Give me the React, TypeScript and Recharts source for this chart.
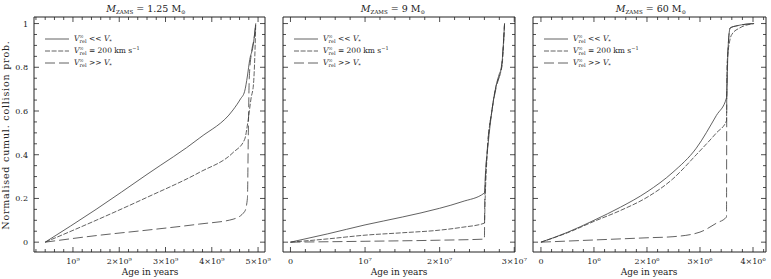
import React from "react";
import { LineChart, Line, XAxis, YAxis } from "recharts";

// ── Data (x in units of the panel's power of ten, y = normalised probability) ──
// Panel 1: M_ZAMS = 1.25 Msun, x in 1e9 yr
const p1SlowX = [0.4, 1.5, 2.6, 3.74, 4.46, 4.62, 4.71, 4.77, 4.82, 4.89, 4.95];
const p1SlowY = [0, 0.15, 0.31, 0.477, 0.605, 0.655, 0.69, 0.76, 0.835, 0.895, 1.0];
const p1MidX = [0.4, 1.5, 2.6, 3.74, 4.46, 4.71, 4.78, 4.85, 4.9, 4.93, 4.95];
const p1MidY = [0, 0.1, 0.205, 0.32, 0.41, 0.47, 0.55, 0.66, 0.72, 0.85, 1.0];
const p1FastX = [0.4, 1.5, 2.6, 3.74, 4.46, 4.71, 4.77, 4.79, 4.81, 4.86, 4.92, 4.95];
const p1FastY = [0, 0.03, 0.055, 0.083, 0.105, 0.14, 0.2, 0.5, 0.75, 0.87, 0.94, 1.0];

// Panel 2: M_ZAMS = 9 Msun, x in 1e7 yr
const p2SlowX = [0, 0.5, 1.0, 1.5, 2.0, 2.3, 2.6, 2.615, 2.65, 2.7, 2.76, 2.8, 2.83, 2.845, 2.87];
const p2SlowY = [0, 0.038, 0.079, 0.115, 0.155, 0.185, 0.225, 0.32, 0.45, 0.6, 0.72, 0.77, 0.8, 0.86, 1.0];
const p2MidX = [0, 0.5, 1.0, 1.5, 2.0, 2.3, 2.6, 2.61, 2.64, 2.7, 2.76, 2.79, 2.82, 2.84, 2.87];
const p2MidY = [0, 0.015, 0.032, 0.043, 0.055, 0.068, 0.087, 0.2, 0.42, 0.6, 0.72, 0.75, 0.78, 0.82, 1.0];
const p2FastX = [0, 1.0, 2.0, 2.6, 2.605, 2.64, 2.7, 2.76, 2.78, 2.81, 2.84, 2.87];
const p2FastY = [0, 0.004, 0.009, 0.014, 0.2, 0.43, 0.6, 0.71, 0.735, 0.77, 0.84, 1.0];

// Panel 3: M_ZAMS = 60 Msun, x in 1e6 yr
const p3SlowX = [0, 0.5, 1.0, 1.5, 2.0, 2.49, 2.93, 3.31, 3.5, 3.53, 3.57, 3.7, 4.02];
const p3SlowY = [0, 0.045, 0.1, 0.16, 0.23, 0.32, 0.43, 0.58, 0.66, 0.89, 0.98, 0.99, 1.0];
const p3MidX = [0, 0.5, 1.0, 1.5, 2.0, 2.49, 2.93, 3.31, 3.5, 3.51, 3.56, 3.6, 3.75, 4.02];
const p3MidY = [0, 0.043, 0.095, 0.145, 0.205, 0.29, 0.4, 0.5, 0.555, 0.81, 0.92, 0.95, 0.98, 1.0];
const p3FastX = [0, 1.0, 2.0, 2.49, 3.0, 3.31, 3.5, 3.505, 3.53, 3.57, 3.7, 4.02];
const p3FastY = [0, 0.01, 0.02, 0.025, 0.046, 0.087, 0.115, 0.66, 0.89, 0.98, 0.99, 1.0];

// Tick values + labels
const p1XTicks = [1, 2, 3, 4, 5];
const p1XLabels = ["10⁹", "2×10⁹", "3×10⁹", "4×10⁹", "5×10⁹"];
const p2XTicks = [0, 1, 2, 3];
const p2XLabels = ["0", "10⁷", "2×10⁷", "3×10⁷"];
const p3XTicks = [0, 1, 2, 3, 4];
const p3XLabels = ["0", "10⁶", "2×10⁶", "3×10⁶", "4×10⁶"];
const yTicks = [0, 0.2, 0.4, 0.6, 0.8, 1];
const yLabels = ["0", "0.2", "0.4", "0.6", "0.8", "1"];

const titles = ["1.25", "9", "60"];

// ── Style tokens ─────────────────────────────────────────────────────────────
const FONT = "'DejaVu Serif', 'Liberation Serif', serif";
const INK = "#222";
const LINE_INK = "#3a3a3a";
const Y_DOMAIN: [number, number] = [-0.045, 1.03];
const DASH_MID = "5 1.6";
const DASH_FAST = "10 4";

const toPts = (xs: number[], ys: number[]) => xs.map((x, i) => ({ x, y: ys[i] }));

const withMinors = (lo: number, hi: number, step: number, majors: number[]) => {
  const out: number[] = [...majors];
  const start = Math.ceil(lo / step - 1e-9);
  for (let k = start; k * step <= hi + 1e-9; k++) {
    const v = +(k * step).toFixed(6);
    if (!majors.some((m) => Math.abs(m - v) < 1e-6)) out.push(v);
  }
  return out.sort((a, b) => a - b);
};

const majorIdx = (v: number, majors: number[]) => majors.findIndex((m) => Math.abs(m - v) < 1e-6);

// ── Custom inward ticks ──────────────────────────────────────────────────────
const bottomTick = (majors: number[], labels: string[]) => (p: any) => {
  const i = majorIdx(p.payload.value, majors);
  const len = i >= 0 ? 5 : 3;
  return (
    <g>
      <line x1={p.x} x2={p.x} y1={p.y} y2={p.y - len} stroke={INK} strokeWidth={0.8} />
      {i >= 0 && (
        <text x={p.x} y={p.y + 12} textAnchor="middle" fontSize={8} fontFamily={FONT} fill={INK}>
          {labels[i]}
        </text>
      )}
    </g>
  );
};

const topTick = (majors: number[]) => (p: any) => {
  const len = majorIdx(p.payload.value, majors) >= 0 ? 5 : 3;
  return <line x1={p.x} x2={p.x} y1={p.y} y2={p.y + len} stroke={INK} strokeWidth={0.8} />;
};

const leftTick = (showLabels: boolean) => (p: any) => {
  const i = majorIdx(p.payload.value, yTicks);
  const len = i >= 0 ? 5 : 3;
  return (
    <g>
      <line x1={p.x} x2={p.x + len} y1={p.y} y2={p.y} stroke={INK} strokeWidth={0.8} />
      {showLabels && i >= 0 && (
        <text x={p.x - 6} y={p.y + 3} textAnchor="end" fontSize={8} fontFamily={FONT} fill={INK}>
          {yLabels[i]}
        </text>
      )}
    </g>
  );
};

const rightTick = (p: any) => {
  const len = majorIdx(p.payload.value, yTicks) >= 0 ? 5 : 3;
  return <line x1={p.x} x2={p.x - len} y1={p.y} y2={p.y} stroke={INK} strokeWidth={0.8} />;
};

// ── Panel ────────────────────────────────────────────────────────────────────
type PanelProps = {
  left: number;
  width: number;
  marginLeft: number;
  marginRight: number;
  domain: [number, number];
  majors: number[];
  labels: string[];
  slow: { x: number; y: number }[];
  mid: { x: number; y: number }[];
  fast: { x: number; y: number }[];
  yLabels: boolean;
};

const Panel: React.FC<PanelProps> = ({ left, width, marginLeft, marginRight, domain, majors, labels, slow, mid, fast, yLabels: showY }) => {
  const xTicks = withMinors(domain[0], domain[1], 0.2, majors);
  const allY = withMinors(Y_DOMAIN[0], Y_DOMAIN[1], 0.05, yTicks);
  const axisLine = { stroke: INK, strokeWidth: 1 };
  return (
    <div style={{ position: "absolute", left, top: 0 }}>
      <LineChart width={width} height={279} margin={{ top: 15, right: marginRight, bottom: 5, left: marginLeft }}>
        <XAxis xAxisId="b" type="number" dataKey="x" domain={domain} allowDataOverflow ticks={xTicks} interval={0}
          tick={bottomTick(majors, labels)} tickLine={false} tickSize={0} tickMargin={0} height={22} axisLine={axisLine} />
        <XAxis xAxisId="t" orientation="top" type="number" dataKey="x" domain={domain} allowDataOverflow ticks={xTicks} interval={0}
          tick={topTick(majors)} tickLine={false} tickSize={0} tickMargin={0} height={2} axisLine={axisLine} />
        <YAxis yAxisId="l" type="number" domain={Y_DOMAIN} allowDataOverflow ticks={allY} interval={0}
          tick={leftTick(showY)} tickLine={false} tickSize={0} tickMargin={0} width={10} axisLine={axisLine} />
        <YAxis yAxisId="r" orientation="right" type="number" domain={Y_DOMAIN} allowDataOverflow ticks={allY} interval={0}
          tick={rightTick} tickLine={false} tickSize={0} tickMargin={0} width={2} axisLine={axisLine} />
        <Line xAxisId="b" yAxisId="l" data={fast} dataKey="y" type="monotone" stroke={LINE_INK} strokeWidth={0.8}
          strokeDasharray={DASH_FAST} dot={false} isAnimationActive={false} />
        <Line xAxisId="b" yAxisId="l" data={mid} dataKey="y" type="monotone" stroke={LINE_INK} strokeWidth={0.8}
          strokeDasharray={DASH_MID} dot={false} isAnimationActive={false} />
        <Line xAxisId="b" yAxisId="l" data={slow} dataKey="y" type="monotone" stroke={LINE_INK} strokeWidth={0.8}
          dot={false} isAnimationActive={false} />
      </LineChart>
    </div>
  );
};

// ── Overlay text: titles, legends, axis labels ───────────────────────────────
const Vrel = () => (
  <>
    <tspan fontStyle="italic">V</tspan>
    <tspan dy={-3} fontSize={5}>∞</tspan>
    <tspan dx={-4} dy={5} fontSize={5}>rel</tspan>
  </>
);

const LegendBlock: React.FC<{ x0: number }> = ({ x0 }) => {
  const rows = [39, 51, 63];
  const dashes = [undefined, DASH_MID, DASH_FAST];
  return (
    <g fontFamily={FONT} fontSize={7.5} fill={INK}>
      {rows.map((y, i) => (
        <line key={i} x1={x0 + 11} x2={x0 + 35} y1={y} y2={y} stroke={LINE_INK} strokeWidth={0.8} strokeDasharray={dashes[i]} />
      ))}
      <text x={x0 + 40} y={rows[0] + 2}>
        <Vrel />
        <tspan dy={-2}> {"<<"} </tspan>
        <tspan fontStyle="italic">V</tspan>
        <tspan dy={2} fontSize={5}>*</tspan>
      </text>
      <text x={x0 + 40} y={rows[1] + 2}>
        <Vrel />
        <tspan dy={-2}> = 200 km s</tspan>
        <tspan dy={-3} fontSize={5}>−1</tspan>
      </text>
      <text x={x0 + 40} y={rows[2] + 2}>
        <Vrel />
        <tspan dy={-2}> {">>"} </tspan>
        <tspan fontStyle="italic">V</tspan>
        <tspan dy={2} fontSize={5}>*</tspan>
      </text>
    </g>
  );
};

const Title: React.FC<{ cx: number; mass: string }> = ({ cx, mass }) => (
  <text x={cx} y={12} textAnchor="middle" fontFamily={FONT} fontSize={9.5} fill={INK}>
    <tspan fontStyle="italic">M</tspan>
    <tspan dy={2} fontSize={5.5}>ZAMS</tspan>
    <tspan dy={-2}> = {mass} M</tspan>
    <tspan dy={2} fontSize={5.5}>⊙</tspan>
  </text>
);

const Overlay = () => (
  <svg width={771} height={279} style={{ position: "absolute", left: 0, top: 0, pointerEvents: "none" }}>
    <Title cx={146} mass={titles[0]} />
    <Title cx={393} mass={titles[1]} />
    <Title cx={651} mass={titles[2]} />
    <LegendBlock x0={34} />
    <LegendBlock x0={283} />
    <LegendBlock x0={533} />
    {[150, 399, 649].map((cx) => (
      <text key={cx} x={cx} y={275} textAnchor="middle" fontFamily={FONT} fontSize={9} fill={INK}>
        Age in years
      </text>
    ))}
    <text x={9} y={135} transform="rotate(-90 9 135)" textAnchor="middle" fontFamily={FONT} fontSize={9.5}
      letterSpacing={0.8} fill={INK}>
      Normalised cumul. collision prob.
    </text>
  </svg>
);

const App: React.FC = () => (
  <div style={{ position: "absolute", left: 0, top: 0, width: 771, height: 279, background: "#fff", overflow: "hidden" }}>
    <Panel left={0} width={282} marginLeft={24} marginRight={15} domain={[0.158, 5.15]} majors={p1XTicks} labels={p1XLabels}
      slow={toPts(p1SlowX, p1SlowY)} mid={toPts(p1MidX, p1MidY)} fast={toPts(p1FastX, p1FastY)} yLabels />
    <Panel left={270} width={262} marginLeft={3} marginRight={15} domain={[-0.1, 3.01]} majors={p2XTicks} labels={p2XLabels}
      slow={toPts(p2SlowX, p2SlowY)} mid={toPts(p2MidX, p2MidY)} fast={toPts(p2FastX, p2FastY)} yLabels={false} />
    <Panel left={520} width={251} marginLeft={3} marginRight={3} domain={[-0.15, 4.245]} majors={p3XTicks} labels={p3XLabels}
      slow={toPts(p3SlowX, p3SlowY)} mid={toPts(p3MidX, p3MidY)} fast={toPts(p3FastX, p3FastY)} yLabels={false} />
    <Overlay />
  </div>
);

export default App;
